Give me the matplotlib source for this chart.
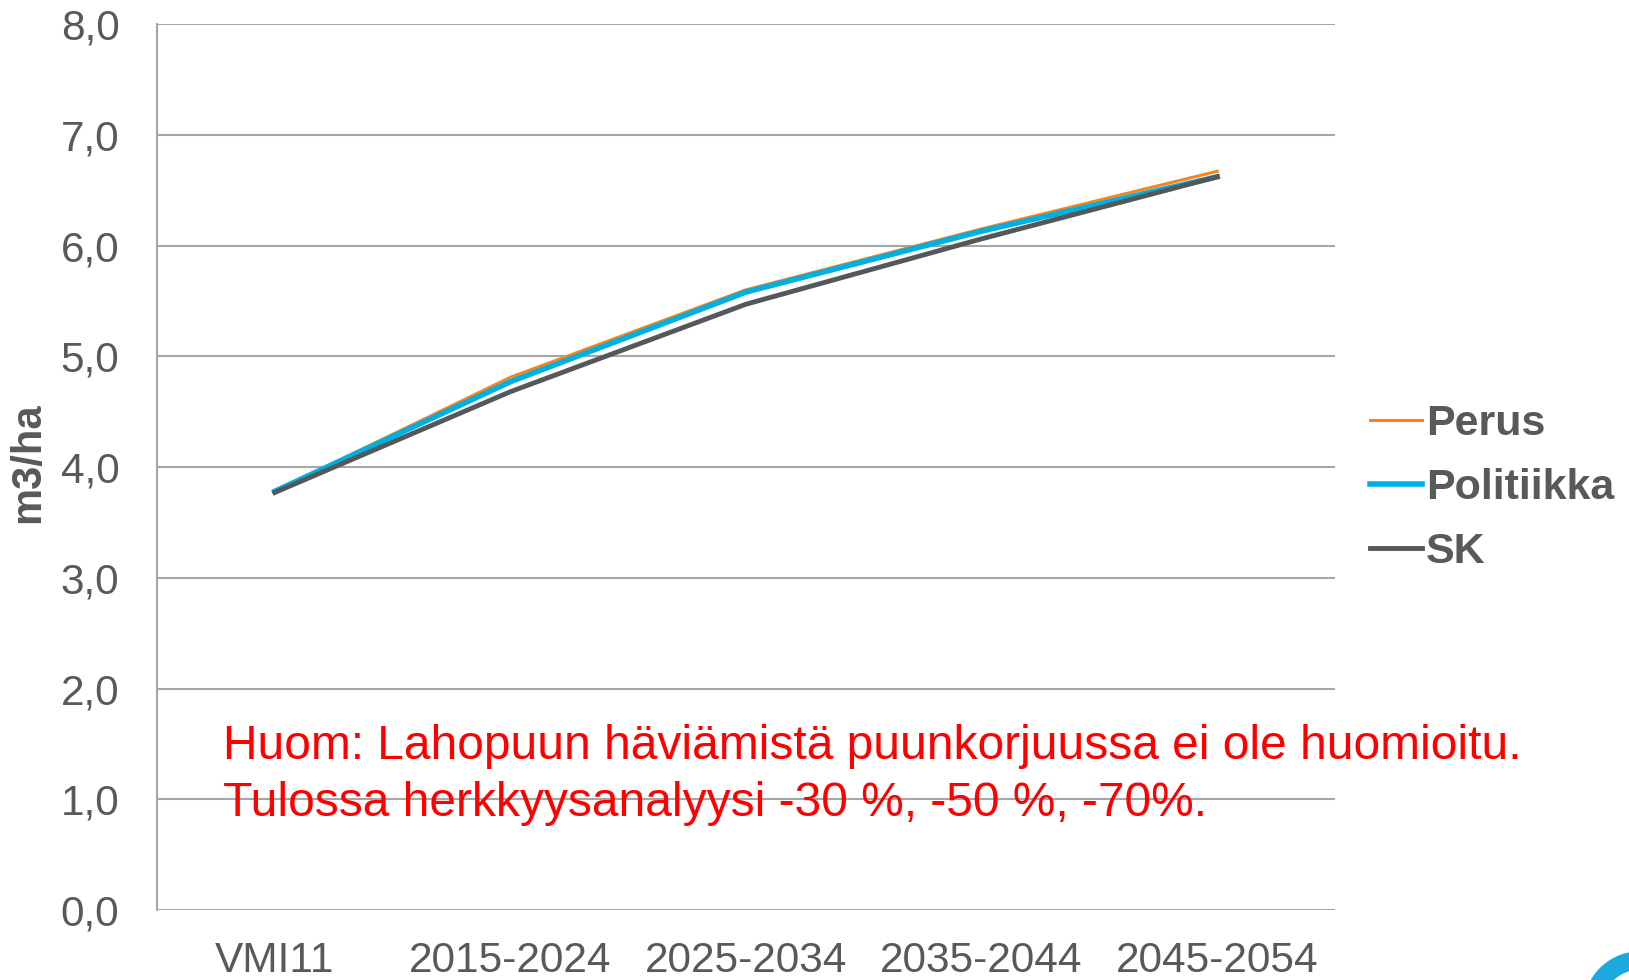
import matplotlib.pyplot as plt
from matplotlib.patches import Wedge

plt.rcParams["font.family"] = ["Liberation Sans", "DejaVu Sans"]

periods = ["VMI11", "2015-2024", "2025-2034", "2035-2044", "2045-2054"]
perus = [3.78, 4.81, 5.60, 6.15, 6.67]
politiikka = [3.78, 4.77, 5.58, 6.13, 6.62]
sk = [3.77, 4.68, 5.47, 6.06, 6.62]
yticks = [0, 1, 2, 3, 4, 5, 6, 7, 8]
note = [
    "Huom: Lahopuun häviämistä puunkorjuussa ei ole huomioitu.",
    "Tulossa herkkyysanalyysi -30 %, -50 %, -70%.",
]

txt_gray = "#595959"
grid_gray = "#A6A6A6"

fig = plt.figure(figsize=(16.29, 9.80), dpi=100)
ax = fig.add_axes([157 / 1629, 1 - 910 / 980, 1178 / 1629, 886 / 980])

x = range(len(periods))
ax.plot(x, perus, color="#F7841E", lw=2.2, label="Perus", zorder=3)
ax.plot(x, politiikka, color="#00B0E0", lw=4, label="Politiikka", zorder=4)
ax.plot(x, sk, color="#54585A", lw=3.5, label="SK", zorder=5)

ax.set_xlim(-0.5, 4.5)
ax.set_ylim(0, 8)
ax.set_yticks(yticks)
ax.set_yticklabels([f"{v:.1f}".replace(".", ",") for v in yticks])
ax.set_xticks(list(x))
ax.set_xticklabels(periods)
ax.tick_params(axis="y", length=0, pad=27, labelsize=30.5, colors=txt_gray)
ax.tick_params(axis="x", length=0, pad=22, labelsize=30.5, colors=txt_gray)
ax.yaxis.grid(True, color=grid_gray, lw=1.5)
ax.set_axisbelow(True)
for s in ["top", "right", "bottom"]:
    ax.spines[s].set_visible(False)
ax.spines["left"].set_color(grid_gray)
ax.spines["left"].set_linewidth(1.5)

ax.set_ylabel("m3/ha", fontsize=30, fontweight="bold", color=txt_gray)
ax.yaxis.set_label_coords(-0.092, 0.505)

ax.text(-0.22, 1.48, note[0], color="red", fontsize=34.5, va="center", zorder=6)
ax.text(-0.22, 0.96, note[1], color="red", fontsize=34.5, va="center", zorder=6)

leg = fig.legend(loc="center left", bbox_to_anchor=(1370 / 1629, 1 - 488 / 980),
                 frameon=False, fontsize=31, handlelength=1.2, handletextpad=0.1,
                 labelspacing=0.55, borderpad=0, borderaxespad=0)
for t in leg.get_texts():
    t.set_color(txt_gray)
    t.set_fontweight("bold")

# logo fragment in the corner
fig.patches.append(Wedge((1640, -28), 56, 90, 270, width=17, color="#1BA9DF",
                         transform=None, figure=fig))

fig.savefig("out.png", dpi=100, facecolor="white")
